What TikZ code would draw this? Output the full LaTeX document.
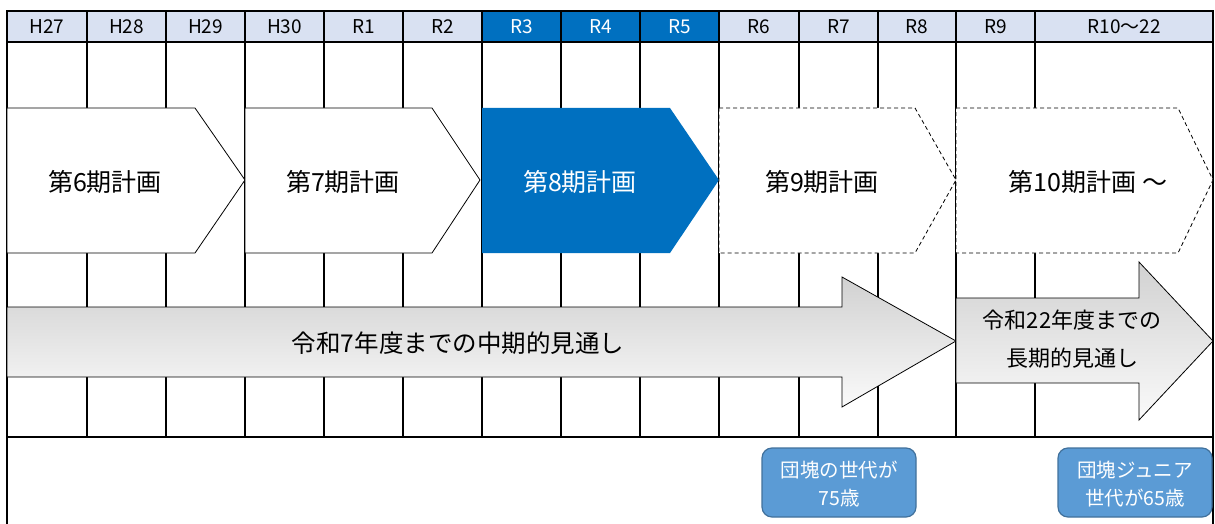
\documentclass[tikz,border=0pt]{standalone}
\usepackage{fontspec}
\setmainfont{Noto Sans CJK JP}
\definecolor{hdr}{HTML}{D9E1F2}
\definecolor{blu}{HTML}{0070C0}
\definecolor{boxfill}{HTML}{5B9BD5}
\definecolor{boxline}{HTML}{41719C}
\tikzset{
  gridline/.style={draw=black, line width=1.3pt},
  planbox/.style={draw=black, fill=white, line width=0.8pt},
  planfuture/.style={draw=black, fill=white, line width=0.8pt, dash pattern=on 4pt off 3pt},
  bigarrow/.style={draw=black, line width=0.8pt, top color=black!18, bottom color=black!2},
  hdrtext/.style={font=\fontsize{19}{22}\selectfont, anchor=center, inner sep=0pt},
  plantext/.style={font=\fontsize{25}{30}\selectfont, anchor=center, inner sep=0pt},
  agetext/.style={font=\fontsize{19.5}{28}\selectfont, text=white, align=center, inner sep=0pt},
  agebox/.style={draw=boxline, fill=boxfill, line width=1.2pt, rounded corners=10pt}
}
\begin{document}
\begin{tikzpicture}[x=1pt, y=-1pt]
\useasboundingbox (0,0) rectangle (1215,524);
% header fills
\fill[hdr] (7,11) rectangle (1213,42);
\fill[blu] (482,11) rectangle (719,42);
% grid
\foreach \xx in {87,166,245,324,403,482,561,640,719,799,878,956,1035}
  \draw[gridline] (\xx,11) -- (\xx,437);
\draw[gridline] (7,11) -- (7,526);
\draw[gridline] (1213,11) -- (1213,526);
\draw[gridline] (6,11) -- (1214,11);
\draw[gridline] (6,42) -- (1214,42);
\draw[gridline] (6,437) -- (1214,437);
% header labels
\node[hdrtext] (h27) at (47,27) {H27};
\node[hdrtext] (h28) at (126.5,27) {H28};
\node[hdrtext] (h29) at (205.5,27) {H29};
\node[hdrtext] (h30) at (284.5,27) {H30};
\node[hdrtext] (r1) at (363.5,27) {R1};
\node[hdrtext] (r2) at (442.5,27) {R2};
\node[hdrtext, text=white] (r3) at (521.5,27) {R3};
\node[hdrtext, text=white] (r4) at (600.5,27) {R4};
\node[hdrtext, text=white] (r5) at (679.5,27) {R5};
\node[hdrtext] (r6) at (759,27) {R6};
\node[hdrtext] (r7) at (838.5,27) {R7};
\node[hdrtext] (r8) at (917,27) {R8};
\node[hdrtext] (r9) at (995.5,27) {R9};
\node[hdrtext] (r10) at (1124,27) {R10～22};
% plan chevrons
\draw[planbox] (7,108) -- (195,108) -- (245,180) -- (195,253) -- (7,253) -- cycle;
\draw[planbox] (245,108) -- (432,108) -- (480,180) -- (432,253) -- (245,253) -- cycle;
\fill[blu] (482,108) -- (670,108) -- (719,180) -- (670,253) -- (482,253) -- cycle;
\draw[planfuture] (719,108) -- (915,108) -- (956,180) -- (915,253) -- (719,253) -- cycle;
\draw[planfuture] (956,108) -- (1178,108) -- (1213,180) -- (1178,253) -- (956,253) -- cycle;
\node[plantext] (p6) at (105,182) {第6期計画};
\node[plantext] (p7) at (343,182) {第7期計画};
\node[plantext, text=white] (p8) at (580,182) {第8期計画};
\node[plantext] (p9) at (822,182) {第9期計画};
\node[plantext] (p10) at (1088,182) {第10期計画 ～};
% outlook arrows
\draw[bigarrow] (7,307) -- (842,307) -- (842,277) -- (956,341) -- (842,407) -- (842,377) -- (7,377) -- cycle;
\draw[bigarrow] (956,298) -- (1139,298) -- (1139,262) -- (1213,341) -- (1139,420) -- (1139,383) -- (956,383) -- cycle;
\node[font=\fontsize{24.5}{30}\selectfont, inner sep=0pt] (mid) at (458,343) {令和7年度までの中期的見通し};
\node[font=\fontsize{22}{38}\selectfont, align=center, inner sep=0pt] (long) at (1072,339) {令和22年度までの\\長期的見通し};
% age boxes
\draw[agebox] (762,448) rectangle (916,517);
\draw[agebox] (1058,448) rectangle (1212,517);
\node[agetext] (b1) at (839,484) {団塊の世代が\\75歳};
\node[agetext] (b2) at (1135,484) {団塊ジュニア\\世代が65歳};
\end{tikzpicture}
\end{document}
